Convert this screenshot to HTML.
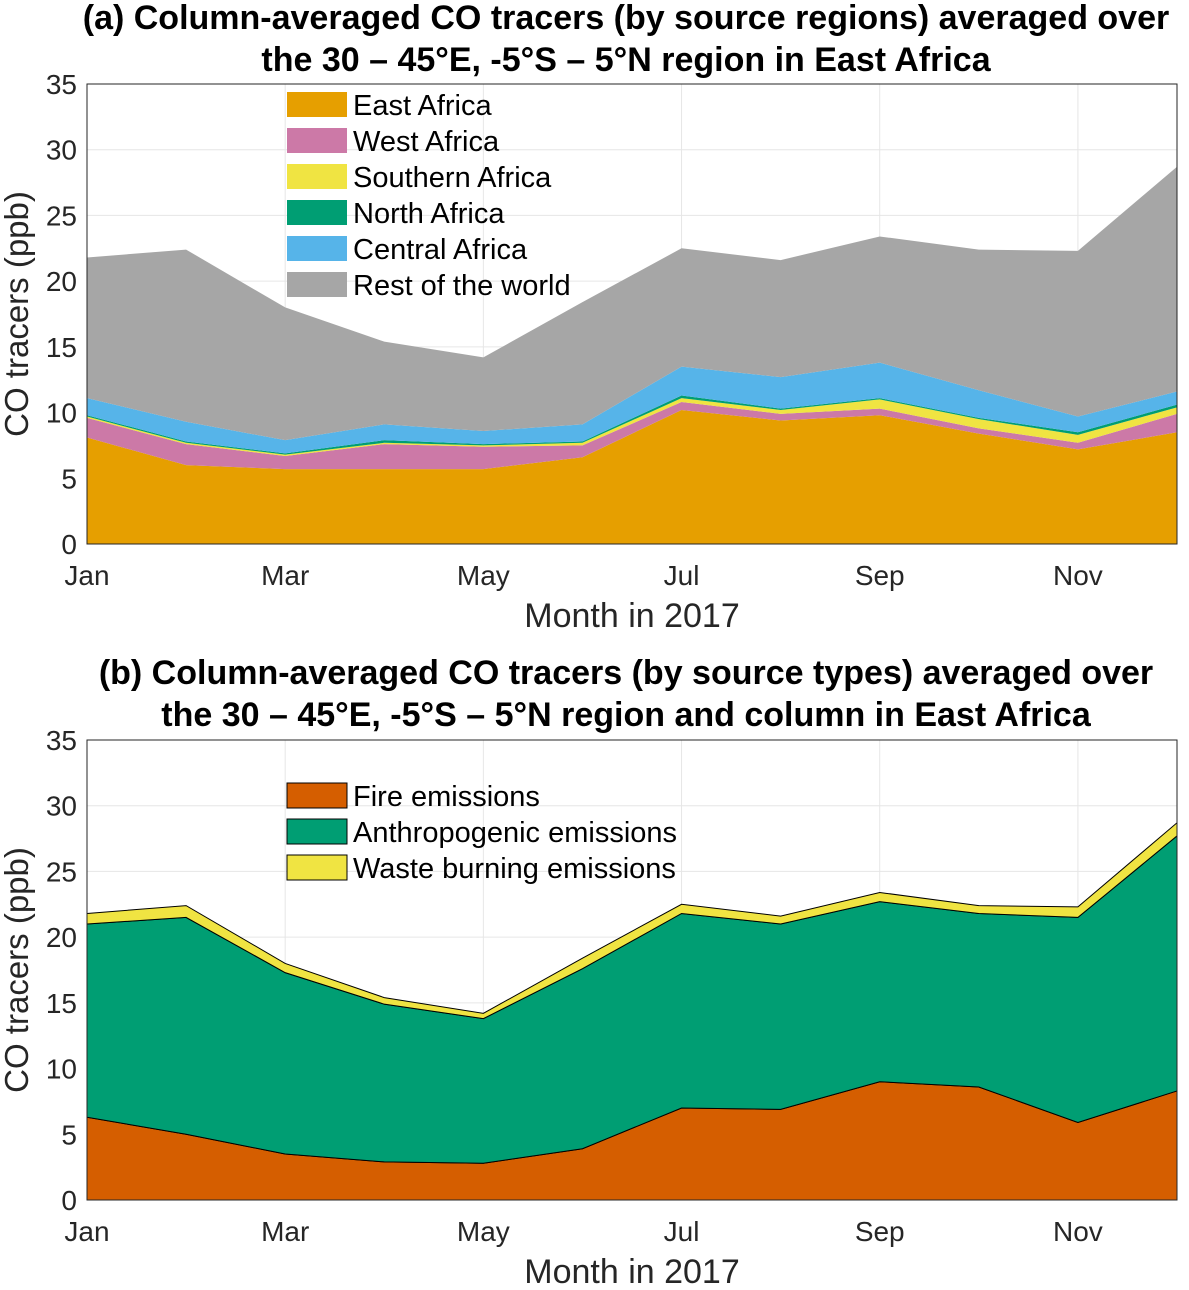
<!DOCTYPE html>
<html><head><meta charset="utf-8"><style>
body{margin:0;background:#fff;}
svg text{font-family:"Liberation Sans",sans-serif;}
</style></head><body>
<svg id="s" width="1189" height="1285" xmlns="http://www.w3.org/2000/svg"></svg>
<script>
const months=["Jan","Feb","Mar","Apr","May","Jun","Jul","Aug","Sep","Oct","Nov","Dec"];
const tickMonths=["Jan","Mar","May","Jul","Sep","Nov"];
const yTicks=[0,5,10,15,20,25,30,35];
// panel a layers (ppb)
const eastAfrica=[8.1,6.0,5.7,5.7,5.7,6.6,10.2,9.4,9.8,8.4,7.2,8.5];
const westAfrica=[1.5,1.6,1.0,1.9,1.7,0.9,0.6,0.5,0.5,0.4,0.5,1.4];
const southernAfrica=[0.1,0.1,0.1,0.1,0.1,0.2,0.3,0.3,0.7,0.7,0.6,0.5];
const northAfrica=[0.1,0.1,0.1,0.2,0.1,0.1,0.2,0.1,0.1,0.1,0.2,0.2];
const centralAfrica=[1.3,1.5,1.0,1.2,1.0,1.3,2.2,2.4,2.7,2.1,1.2,1.0];
const restOfWorld=[10.7,13.1,10.1,6.3,5.6,9.3,9.0,8.9,9.6,10.7,12.6,17.1];
// panel b layers
const fire=[6.3,5.0,3.5,2.9,2.8,3.9,7.0,6.9,9.0,8.6,5.9,8.3];
const anthro=[14.7,16.5,13.8,12.0,11.0,13.7,14.8,14.1,13.7,13.2,15.6,19.4];
const waste=[0.8,0.9,0.7,0.5,0.4,0.8,0.7,0.6,0.7,0.6,0.8,1.0];

const S=document.getElementById('s');const NS="http://www.w3.org/2000/svg";
function mk(t,a,p){const e=document.createElementNS(NS,t);for(const k in a)e.setAttribute(k,a[k]);(p||S).appendChild(e);return e;}
const X0=87,X1=1177;
function xs(i){return X0+i*(X1-X0)/11;}
function panel(y0,name,layers,colors,labels,edges,legY,title1,title2,titleY){
  const ys=v=>y0-v*460/35;
  const g=mk('g',{});
  
  
  yTicks.forEach(t=>{mk('line',{x1:X0,x2:X1,y1:ys(t),y2:ys(t),stroke:'#e6e6e6','stroke-width':1},g);
    const tx=mk('text',{x:X0-10,y:ys(t)+10,'text-anchor':'end','font-size':28,fill:'#262626'},g);tx.textContent=t;
    });
  tickMonths.forEach(m=>{const i=months.indexOf(m);mk('line',{x1:xs(i),x2:xs(i),y1:ys(0),y2:ys(35),stroke:'#e6e6e6','stroke-width':1},g);
    const tx=mk('text',{x:xs(i),y:y0+41,'text-anchor':'middle','font-size':28,fill:'#262626'},g);tx.textContent=m;
    });
  let base=months.map(()=>0);
  layers.forEach((L,k)=>{const top=base.map((b,i)=>b+L[i]);
    let d='M'+top.map((v,i)=>xs(i)+','+ys(v)).join('L');
    for(let i=11;i>=0;i--)d+='L'+xs(i)+','+ys(base[i]);d+='Z';
    const p=mk('path',{d:d,fill:colors[k],stroke:edges?'#000':'none','stroke-width':edges?1:0},g);
    
    
    base=top;});
  mk('rect',{x:X0,y:ys(35),width:X1-X0,height:460,fill:'none',stroke:'#262626','stroke-width':1},g);
  labels.forEach((lb,k)=>{const yy=legY+k*36;
    const r=mk('rect',{x:287,y:yy,width:60,height:25,fill:colors[k],stroke:edges?'#000':'none'},g);
    
    const t=mk('text',{x:353,y:yy+23,'font-size':29,fill:'#000'},g);t.textContent=lb;
    });
  const yl=mk('text',{x:0,y:0,'font-size':33,fill:'#262626','text-anchor':'middle',transform:`translate(28,${y0-230}) rotate(-90)`},g);
  yl.textContent='CO tracers (ppb)';
  const xl=mk('text',{x:632,y:y0+83,'font-size':34,fill:'#262626','text-anchor':'middle'},g);
  xl.textContent='Month in 2017';
  [title1,title2].forEach((tt,j)=>{const t=mk('text',{x:626,y:titleY+j*42,'font-size':34,'font-weight':'bold','text-anchor':'middle',fill:'#000'},g);
    t.textContent=tt;});
}
panel(544,'panel-a-regions',[eastAfrica,westAfrica,southernAfrica,northAfrica,centralAfrica,restOfWorld],
 ['#e69f00','#cc79a7','#f0e442','#009e73','#56b4e9','#a6a6a6'],
 ['East Africa','West Africa','Southern Africa','North Africa','Central Africa','Rest of the world'],false,92,
 '(a) Column-averaged CO tracers (by source regions) averaged over','the 30 – 45°E, -5°S – 5°N region in East Africa',29);
panel(1200,'panel-b-types',[fire,anthro,waste],['#d55e00','#009e73','#f0e442'],
 ['Fire emissions','Anthropogenic emissions','Waste burning emissions'],true,783,
 '(b) Column-averaged CO tracers (by source types) averaged over','the 30 – 45°E, -5°S – 5°N region and column in East Africa',684);
</script>
</body></html>
